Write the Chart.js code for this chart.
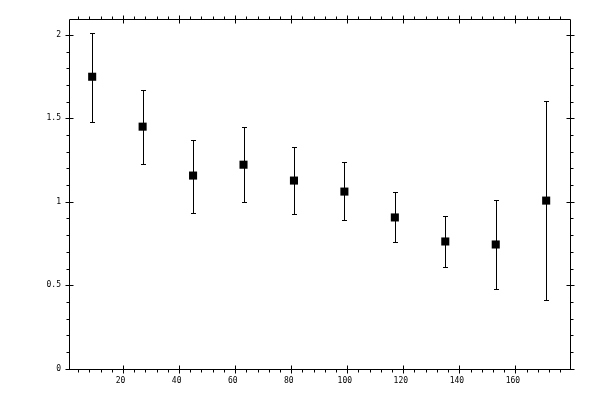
<!DOCTYPE html>
<html>
<head>
<meta charset="utf-8">
<script src="https://cdn.jsdelivr.net/npm/chart.js@4/dist/chart.umd.min.js"></script>
<style>
html,body{margin:0;padding:0;background:#fff;}
#wrap{width:600px;height:400px;}
</style>
</head>
<body>
<div id="wrap"><canvas id="c" width="600" height="400"></canvas></div>
<script>
// ---- data ----
const xValues   = [9, 27, 45, 63, 81, 99, 117, 135, 153, 171];
const yValues   = [1.749, 1.450, 1.157, 1.222, 1.127, 1.061, 0.906, 0.762, 0.744, 1.007];
const yLow      = [1.480, 1.228, 0.935, 1.001, 0.929, 0.888, 0.756, 0.612, 0.475, 0.409];
const yHigh     = [2.010, 1.669, 1.372, 1.447, 1.330, 1.240, 1.061, 0.915, 1.013, 1.605];
const xTickValues = [20, 40, 60, 80, 100, 120, 140, 160];
const xTickLabels = ['20', '40', '60', '80', '100', '120', '140', '160'];
const yTickValues = [0, 0.5, 1, 1.5, 2];
const yTickLabels = ['0', '0.5', '1', '1.5', '2'];
const xMinorStep = 4;
const yMinorStep = 0.1;
const xRange = [0.73, 179.5];
const yRange = [-0.002, 2.095];

const points = xValues.map((x, i) => ({x: x, y: yValues[i]}));

const framePlugin = {
  id: 'frame',
  afterDatasetsDraw(chart) {
    const ctx = chart.ctx;
    const xs = chart.scales.x, ys = chart.scales.y;
    const L = Math.round(xs.left) + 0.5, R = Math.round(xs.right) + 0.5;
    const T = Math.round(ys.top) + 0.5, B = Math.round(ys.bottom) + 0.5;
    ctx.save();
    ctx.strokeStyle = '#000';
    ctx.lineWidth = 1;
    // error bars
    ctx.beginPath();
    for (let i = 0; i < xValues.length; i++) {
      const px = Math.round(xs.getPixelForValue(xValues[i])) + 0.5;
      const pl = Math.round(ys.getPixelForValue(yLow[i])) + 0.5;
      const ph = Math.round(ys.getPixelForValue(yHigh[i])) + 0.5;
      ctx.moveTo(px, pl); ctx.lineTo(px, ph);
      ctx.moveTo(px - 2.5, pl); ctx.lineTo(px + 2.5, pl);
      ctx.moveTo(px - 2.5, ph); ctx.lineTo(px + 2.5, ph);
    }
    ctx.stroke();
    // frame
    ctx.beginPath();
    ctx.rect(L, T, R - L, B - T);
    ctx.stroke();
    ctx.beginPath();
    // x ticks (bottom & top)
    const isMajorX = v => xTickValues.some(t => Math.abs(t - v) < 1e-6);
    for (let v = Math.ceil(xRange[0] / xMinorStep) * xMinorStep; v <= xRange[1]; v += xMinorStep) {
      const px = Math.round(xs.getPixelForValue(v)) + 0.5;
      if (isMajorX(v)) {
        ctx.moveTo(px, B - 4); ctx.lineTo(px, B + 4);
        ctx.moveTo(px, T - 4); ctx.lineTo(px, T + 4);
      } else {
        ctx.moveTo(px, B); ctx.lineTo(px, B + 3);
        ctx.moveTo(px, T); ctx.lineTo(px, T - 3);
      }
    }
    // y ticks (left & right)
    const isMajorY = v => yTickValues.some(t => Math.abs(t - v) < 1e-6);
    for (let k = Math.ceil(yRange[0] / yMinorStep); k * yMinorStep <= yRange[1] + 1e-9; k++) {
      const v = k * yMinorStep;
      const py = Math.round(ys.getPixelForValue(v)) + 0.5;
      if (isMajorY(v)) {
        ctx.moveTo(L - 4, py); ctx.lineTo(L + 4, py);
        ctx.moveTo(R - 4, py); ctx.lineTo(R + 4, py);
      } else {
        ctx.moveTo(L, py); ctx.lineTo(L - 3, py);
        ctx.moveTo(R, py); ctx.lineTo(R + 3, py);
      }
    }
    ctx.stroke();
    ctx.restore();
  }
};

const tickFont = {family: 'DejaVu Sans Mono', size: 8};

new Chart(document.getElementById('c'), {
  type: 'scatter',
  data: {
    datasets: [{
      data: points,
      pointStyle: 'rect',
      pointRadius: 5.7,
      pointHoverRadius: 5.7,
      backgroundColor: '#000',
      borderWidth: 0
    }]
  },
  options: {
    responsive: false,
    animation: false,
    devicePixelRatio: 1,
    layout: {padding: {top: 19, right: 30, left: 0, bottom: 0}},
    plugins: {legend: {display: false}, tooltip: {enabled: false}},
    scales: {
      x: {
        type: 'linear',
        min: xRange[0], max: xRange[1],
        grid: {display: false, drawTicks: false},
        border: {display: false},
        afterBuildTicks: s => { s.ticks = xTickValues.map(v => ({value: v})); },
        afterFit: s => { s.height = 31; },
        ticks: {
          color: '#000', font: tickFont, padding: 7, maxRotation: 0, autoSkip: false,
          callback: (v) => { const i = xTickValues.indexOf(v); return i >= 0 ? xTickLabels[i] + ' ' : ''; }
        }
      },
      y: {
        type: 'linear',
        min: yRange[0], max: yRange[1],
        grid: {display: false, drawTicks: false},
        border: {display: false},
        afterBuildTicks: s => { s.ticks = yTickValues.map(v => ({value: v})); },
        afterFit: s => { s.width = 69; },
        ticks: {
          color: '#000', font: tickFont, padding: 8, autoSkip: false,
          callback: (v) => { const i = yTickValues.indexOf(v); return i >= 0 ? yTickLabels[i] : ''; }
        }
      }
    }
  },
  plugins: [framePlugin]
});
</script>
</body>
</html>
